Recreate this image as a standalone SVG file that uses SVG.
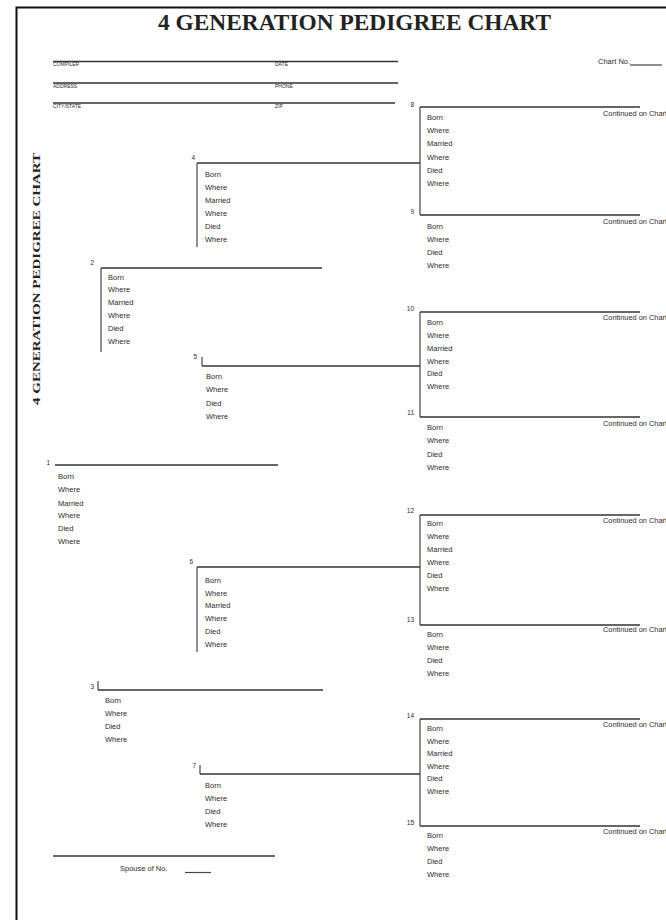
<svg xmlns="http://www.w3.org/2000/svg" width="666" height="920" viewBox="0 0 666 920">
<style>
.t{font-family:"Liberation Sans",Arial,sans-serif;fill:#2a2a2a}
.l{font-size:7.5px}
.n{font-size:6.5px;text-anchor:end}
.c{font-size:6.5px}
.h{font-size:5px}
.ln{stroke:#333;stroke-width:1.5;fill:none}
.vb{stroke:#444;stroke-width:1.2;fill:none}
.ser{font-family:"Liberation Serif","Times New Roman",serif;font-weight:bold;fill:#222}
</style>
<rect width="666" height="920" fill="#fff"/>
<g id="frame">
<path d="M16.5 920V7.5H666" stroke="#111" stroke-width="2" fill="none"/>
<text class="ser" x="354.5" y="30" font-size="23" text-anchor="middle" textLength="393" lengthAdjust="spacingAndGlyphs">4 GENERATION  PEDIGREE CHART</text>
<text class="ser" transform="translate(40,405) rotate(-90)" font-size="11" textLength="252" lengthAdjust="spacingAndGlyphs">4 GENERATION PEDIGREE CHART</text>
</g>
<g id="header">
<path class="ln" d="M53 61.5H398M53 83H398M53 103H395"/>
<text class="t h" x="53" y="66">COMPILER</text>
<text class="t h" x="275" y="66">DATE</text>
<text class="t h" x="53" y="88">ADDRESS</text>
<text class="t h" x="275" y="88">PHONE</text>
<text class="t h" x="53" y="108">CITY/STATE</text>
<text class="t h" x="275" y="108">ZIP</text>
<text class="t l" x="598" y="64">Chart No.</text>
<path class="vb" d="M630 65H662"/>
</g>
<g id="connectors">
<path class="vb" d="M420 107V215M420 312V417M420 515V625M420 719V826"/>
</g>
<g id="p1">
<text class="t n" x="50" y="465">1</text>
<path class="ln" d="M55 465H278" stroke-width="2"/>
<text class="t l" x="58" y="478.5">Born</text><text class="t l" x="58" y="491.5">Where</text><text class="t l" x="58" y="505.5">Married</text><text class="t l" x="58" y="517.5">Where</text><text class="t l" x="58" y="530.5">Died</text><text class="t l" x="58" y="543.5">Where</text>
</g>
<g id="p2">
<text class="t n" x="94" y="265">2</text>
<path class="ln" d="M101 268H322"/><path class="vb" d="M101 268V352"/>
<text class="t l" x="108" y="279.5">Born</text><text class="t l" x="108" y="291.5">Where</text><text class="t l" x="108" y="304.5">Married</text><text class="t l" x="108" y="317.5">Where</text><text class="t l" x="108" y="330.5">Died</text><text class="t l" x="108" y="343.5">Where</text>
</g>
<g id="p3">
<text class="t n" x="94" y="689">3</text>
<path class="ln" d="M98 690H323"/><path class="vb" d="M98 681V690"/>
<text class="t l" x="105" y="702.5">Born</text><text class="t l" x="105" y="715.5">Where</text><text class="t l" x="105" y="728.5">Died</text><text class="t l" x="105" y="741.5">Where</text>
</g>
<g id="p4">
<text class="t n" x="195" y="160">4</text>
<path class="ln" d="M197 163H420"/><path class="vb" d="M197 163V247"/>
<text class="t l" x="205" y="176.5">Born</text><text class="t l" x="205" y="189.5">Where</text><text class="t l" x="205" y="202.5">Married</text><text class="t l" x="205" y="215.5">Where</text><text class="t l" x="205" y="228.5">Died</text><text class="t l" x="205" y="241.5">Where</text>
</g>
<g id="p5">
<text class="t n" x="197" y="359">5</text>
<path class="ln" d="M202 366H420"/><path class="vb" d="M202 357V366"/>
<text class="t l" x="206" y="378.5">Born</text><text class="t l" x="206" y="391.5">Where</text><text class="t l" x="206" y="405.5">Died</text><text class="t l" x="206" y="418.5">Where</text>
</g>
<g id="p6">
<text class="t n" x="193" y="564">6</text>
<path class="ln" d="M197 567H420"/><path class="vb" d="M197 567V652"/>
<text class="t l" x="205" y="582.5">Born</text><text class="t l" x="205" y="595.5">Where</text><text class="t l" x="205" y="607.5">Married</text><text class="t l" x="205" y="620.5">Where</text><text class="t l" x="205" y="633.5">Died</text><text class="t l" x="205" y="646.5">Where</text>
</g>
<g id="p7">
<text class="t n" x="196" y="768">7</text>
<path class="ln" d="M200 774H420"/><path class="vb" d="M200 765V774"/>
<text class="t l" x="205" y="787.5">Born</text><text class="t l" x="205" y="800.5">Where</text><text class="t l" x="205" y="813.5">Died</text><text class="t l" x="205" y="826.5">Where</text>
</g>
<g id="p8">
<text class="t n" x="414" y="107">8</text>
<path class="ln" d="M420 107H640"/>
<text class="t c" x="603" y="116" textLength="64" lengthAdjust="spacingAndGlyphs">Continued on Chart</text>
<text class="t l" x="427" y="119.5">Born</text><text class="t l" x="427" y="132.5">Where</text><text class="t l" x="427" y="145.5">Married</text><text class="t l" x="427" y="159.5">Where</text><text class="t l" x="427" y="172.5">Died</text><text class="t l" x="427" y="185.5">Where</text>
</g>
<g id="p9">
<text class="t n" x="414" y="214">9</text>
<path class="ln" d="M420 215H640"/>
<text class="t c" x="603" y="224" textLength="64" lengthAdjust="spacingAndGlyphs">Continued on Chart</text>
<text class="t l" x="427" y="228.5">Born</text><text class="t l" x="427" y="241.5">Where</text><text class="t l" x="427" y="254.5">Died</text><text class="t l" x="427" y="267.5">Where</text>
</g>
<g id="p10">
<text class="t n" x="414" y="311">10</text>
<path class="ln" d="M420 312H640"/>
<text class="t c" x="603" y="320" textLength="64" lengthAdjust="spacingAndGlyphs">Continued on Chart</text>
<text class="t l" x="427" y="324.5">Born</text><text class="t l" x="427" y="337.5">Where</text><text class="t l" x="427" y="350.5">Married</text><text class="t l" x="427" y="363.5">Where</text><text class="t l" x="427" y="375.5">Died</text><text class="t l" x="427" y="388.5">Where</text>
</g>
<g id="p11">
<text class="t n" x="414" y="415">11</text>
<path class="ln" d="M420 417H640"/>
<text class="t c" x="603" y="426" textLength="64" lengthAdjust="spacingAndGlyphs">Continued on Chart</text>
<text class="t l" x="427" y="429.5">Born</text><text class="t l" x="427" y="442.5">Where</text><text class="t l" x="427" y="456.5">Died</text><text class="t l" x="427" y="469.5">Where</text>
</g>
<g id="p12">
<text class="t n" x="414" y="513">12</text>
<path class="ln" d="M420 515H640"/>
<text class="t c" x="603" y="523" textLength="64" lengthAdjust="spacingAndGlyphs">Continued on Chart</text>
<text class="t l" x="427" y="525.5">Born</text><text class="t l" x="427" y="538.5">Where</text><text class="t l" x="427" y="551.5">Married</text><text class="t l" x="427" y="564.5">Where</text><text class="t l" x="427" y="577.5">Died</text><text class="t l" x="427" y="590.5">Where</text>
</g>
<g id="p13">
<text class="t n" x="414" y="622">13</text>
<path class="ln" d="M420 625H640"/>
<text class="t c" x="603" y="632" textLength="64" lengthAdjust="spacingAndGlyphs">Continued on Chart</text>
<text class="t l" x="427" y="636.5">Born</text><text class="t l" x="427" y="649.5">Where</text><text class="t l" x="427" y="662.5">Died</text><text class="t l" x="427" y="675.5">Where</text>
</g>
<g id="p14">
<text class="t n" x="414" y="718">14</text>
<path class="ln" d="M420 719H640"/>
<text class="t c" x="603" y="727" textLength="64" lengthAdjust="spacingAndGlyphs">Continued on Chart</text>
<text class="t l" x="427" y="730.5">Born</text><text class="t l" x="427" y="743.5">Where</text><text class="t l" x="427" y="755.5">Married</text><text class="t l" x="427" y="768.5">Where</text><text class="t l" x="427" y="780.5">Died</text><text class="t l" x="427" y="793.5">Where</text>
</g>
<g id="p15">
<text class="t n" x="414" y="825">15</text>
<path class="ln" d="M420 826H640"/>
<text class="t c" x="603" y="834" textLength="64" lengthAdjust="spacingAndGlyphs">Continued on Chart</text>
<text class="t l" x="427" y="837.5">Born</text><text class="t l" x="427" y="850.5">Where</text><text class="t l" x="427" y="863.5">Died</text><text class="t l" x="427" y="876.5">Where</text>
</g>
<g id="spouse">
<path class="ln" d="M53 856H275"/>
<text class="t l" x="120" y="871">Spouse of No.</text>
<path class="vb" d="M185 872.5H211"/>
</g>
</svg>
